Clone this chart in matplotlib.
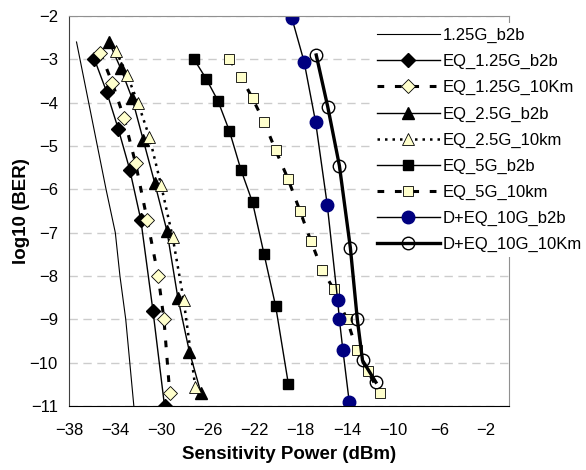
"""Sensitivity curves (log10 BER vs received power) for the EQ / D+EQ links."""

import matplotlib
matplotlib.use("Agg")
import matplotlib.pyplot as plt

plt.rcParams["font.family"] = ["Liberation Sans", "DejaVu Sans"]

# 1.25G_b2b (reference curve, no markers)
ref_125_x = [-37.35, -36.3, -35.55, -34.8, -34.0, -33.6, -33.1, -32.75, -32.4]
ref_125_y = [-2.6, -4.0, -5.0, -6.0, -7.0, -8.0, -9.0, -10.0, -11.0]

eq125_b2b_x = [-35.8, -34.75, -33.75, -32.75, -31.8, -30.75, -29.75]
eq125_b2b_y = [-3.0, -3.75, -4.6, -5.55, -6.7, -8.8, -11.0]

eq125_10k_x = [-35.3, -34.25, -33.25, -32.25, -31.25, -30.3, -29.8, -29.3]
eq125_10k_y = [-2.85, -3.55, -4.35, -5.4, -6.7, -8.0, -9.0, -10.7]

eq25_b2b_x = [-34.55, -33.55, -32.55, -31.6, -30.6, -29.55, -28.6, -27.6, -26.6]
eq25_b2b_y = [-2.6, -3.2, -3.9, -4.85, -5.85, -6.95, -8.5, -9.75, -10.7]

eq25_10k_x = [-33.95, -33.0, -32.05, -31.05, -30.05, -29.05, -28.1, -27.1]
eq25_10k_y = [-2.8, -3.35, -4.0, -4.8, -5.9, -7.1, -8.55, -10.55]

eq5_b2b_x = [-27.2, -26.15, -25.15, -24.15, -23.15, -22.15, -21.15, -20.15, -19.05]
eq5_b2b_y = [-3.0, -3.45, -3.95, -4.65, -5.55, -6.3, -7.5, -8.7, -10.5]

eq5_10k_x = [-24.15, -23.15, -22.15, -21.15, -20.15, -19.1, -18.05, -17.1,
             -16.15, -15.15, -14.0, -13.15, -12.2, -11.15]
eq5_10k_y = [-3.0, -3.4, -3.9, -4.45, -5.1, -5.75, -6.5, -7.2,
             -7.85, -8.3, -9.0, -9.7, -10.2, -10.7]

d10_b2b_x = [-18.75, -17.7, -16.7, -15.7, -14.8, -14.65, -14.35, -13.8]
d10_b2b_y = [-2.05, -3.05, -4.45, -6.35, -8.55, -9.0, -9.7, -10.9]

d10_10k_x = [-16.65, -15.65, -14.65, -13.7, -13.1, -12.65, -11.5]
d10_10k_y = [-2.9, -4.1, -5.45, -7.35, -9.0, -9.95, -10.45]

x_ticks = [-38, -34, -30, -26, -22, -18, -14, -10, -6, -2]
y_ticks = [-2, -3, -4, -5, -6, -7, -8, -9, -10, -11]

cream = "#FFFFCC"
navy = "#000080"

fig = plt.figure(figsize=(5.86, 4.70), dpi=100)
ax = fig.add_axes([69 / 586, 1 - 406 / 470, 440 / 586, 390 / 470])

ax.plot(ref_125_x, ref_125_y, color="black", lw=0.8, label="1.25G_b2b")
ax.plot(eq125_b2b_x, eq125_b2b_y, color="black", lw=1.0, marker="D", ms=7,
        mfc="black", mec="black", label="EQ_1.25G_b2b")
ax.plot(eq125_10k_x, eq125_10k_y, color="black", lw=2.2, ls=(0, (2.2, 3.5)),
        marker="D", ms=7, mfc=cream, mec="black", mew=0.6, label="EQ_1.25G_10Km")
ax.plot(eq25_b2b_x, eq25_b2b_y, color="black", lw=1.0, marker="^", ms=8.5,
        mfc="black", mec="black", label="EQ_2.5G_b2b")
ax.plot(eq25_10k_x, eq25_10k_y, color="black", lw=1.8, ls=(0, (1, 2)),
        marker="^", ms=8.5, mfc=cream, mec="black", mew=0.6, label="EQ_2.5G_10km")
ax.plot(eq5_b2b_x, eq5_b2b_y, color="black", lw=1.0, marker="s", ms=7,
        mfc="black", mec="black", label="EQ_5G_b2b")
ax.plot(eq5_10k_x, eq5_10k_y, color="black", lw=2.2, ls=(0, (2.2, 3.5)),
        marker="s", ms=7, mfc=cream, mec="black", mew=0.6, label="EQ_5G_10km")
ax.plot(d10_b2b_x, d10_b2b_y, color="black", lw=1.0, marker="o", ms=9,
        mfc=navy, mec=navy, label="D+EQ_10G_b2b")
ax.plot(d10_10k_x, d10_10k_y, color="black", lw=2.4, marker="o", ms=9,
        mfc="none", mec="black", mew=1.0, label="D+EQ_10G_10Km")

ax.set_xlim(-38, 0)
ax.set_ylim(-11, -2)
ax.set_xticks(x_ticks)
ax.set_yticks(y_ticks)
ax.tick_params(axis="x", length=0, labelsize=12, pad=12)
ax.tick_params(axis="y", length=0, labelsize=12, pad=8)
ax.yaxis.grid(True, color="#cccccc", ls=(0, (6, 4)), lw=1.0)
ax.set_axisbelow(True)

for side in ("top", "right"):
    ax.spines[side].set_color("#909090")
ax.spines["left"].set_color("#404040")
ax.spines["bottom"].set_color("black")

ax.set_xlabel("Sensitivity Power (dBm)", fontsize=13.5, fontweight="bold", labelpad=6)
ax.set_ylabel("log10 (BER)", fontsize=13.5, fontweight="bold", labelpad=0)

leg = fig.legend(loc="upper left", bbox_to_anchor=(372 / 586, 1 - 23 / 470),
                 fontsize=12, handlelength=3.75, handletextpad=0.2,
                 labelspacing=0.66, borderpad=0.3, borderaxespad=0,
                 frameon=True, fancybox=False, framealpha=1)
leg.get_frame().set_edgecolor("none")
leg.get_frame().set_facecolor("white")

fig.savefig("out.png", dpi=100)
